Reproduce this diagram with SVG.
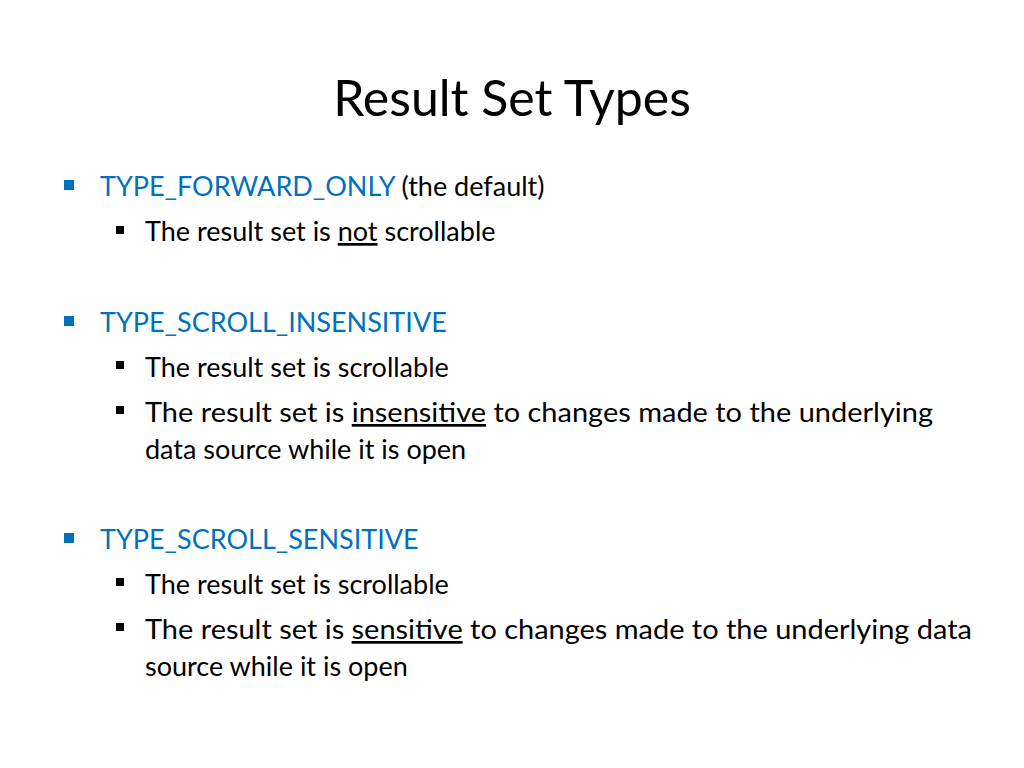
<svg xmlns="http://www.w3.org/2000/svg" width="1024" height="768" viewBox="0 0 1024 768">
<style>
text{font-family:Lato,"Open Sans","Liberation Sans",sans-serif;font-size:27px;fill:#000}
.b{fill:#0070C0}
.u{text-decoration:underline}
</style>
<rect width="1024" height="768" fill="#fff"/>
<text x="512" y="116" text-anchor="middle" style="font-size:50px">Result Set Types</text>
<g fill="#0070C0"><rect x="64" y="180" width="10" height="10"/><rect x="64" y="316" width="10" height="10"/><rect x="64" y="533" width="10" height="10"/></g>
<g fill="#000"><rect x="116" y="226" width="8" height="8"/><rect x="116" y="361" width="8" height="8"/><rect x="116" y="406" width="8" height="8"/><rect x="116" y="578" width="8" height="8"/><rect x="116" y="623" width="8" height="8"/></g>
<text x="100" y="196"><tspan class="b">TYPE_FORWARD_ONLY</tspan> (the default)</text>
<text x="145" y="241">The result set is <tspan class="u">not</tspan> scrollable</text>
<text x="100" y="332" class="b">TYPE_SCROLL_INSENSITIVE</text>
<text x="145" y="377">The result set is scrollable</text>
<text x="145" y="422" textLength="788" lengthAdjust="spacingAndGlyphs">The result set is <tspan class="u">insensitive</tspan> to changes made to the underlying</text>
<text x="145" y="459">data source while it is open</text>
<text x="100" y="549" class="b">TYPE_SCROLL_SENSITIVE</text>
<text x="145" y="594">The result set is scrollable</text>
<text x="145" y="639" textLength="827" lengthAdjust="spacingAndGlyphs">The result set is <tspan class="u">sensitive</tspan> to changes made to the underlying data</text>
<text x="145" y="676">source while it is open</text>
</svg>
